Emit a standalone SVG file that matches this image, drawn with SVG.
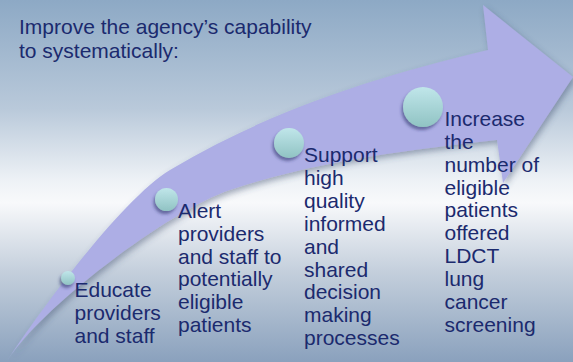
<svg xmlns="http://www.w3.org/2000/svg" width="573" height="362" viewBox="0 0 573 362">
  <defs>
    <linearGradient id="bg" x1="0" y1="0" x2="0" y2="1">
      <stop offset="0" stop-color="#8da9c5"/>
      <stop offset="0.3" stop-color="#b9c9da"/>
      <stop offset="0.5" stop-color="#eef2f6"/>
      <stop offset="0.56" stop-color="#f8f9fb"/>
      <stop offset="0.75" stop-color="#c4cfdc"/>
      <stop offset="1" stop-color="#8aa1bd"/>
    </linearGradient>
    <linearGradient id="bead" x1="0" y1="0" x2="0" y2="1">
      <stop offset="0" stop-color="#c0e6ea"/>
      <stop offset="1" stop-color="#90c3c3"/>
    </linearGradient>
    <filter id="arrowShadow" x="-10%" y="-10%" width="130%" height="130%">
      <feDropShadow dx="2" dy="3" stdDeviation="3" flood-color="#3a4a6a" flood-opacity="0.45"/>
    </filter>
    <filter id="beadShadow" x="-50%" y="-50%" width="200%" height="200%">
      <feDropShadow dx="-1.5" dy="3" stdDeviation="1.8" flood-color="#2c2f66" flood-opacity="0.55"/>
    </filter>
  </defs>
  <style>
    .lbl { font-family: "Liberation Sans", Arial, sans-serif; font-size: 21px; fill: #1b2a6e; }
    .bead { fill: url(#bead); filter: url(#beadShadow); }
  </style>

  <!-- backdrop -->
  <rect width="573" height="362" fill="url(#bg)"/>

  <!-- heading -->
  <g id="heading">
    <text class="lbl" x="19" y="34">Improve the agency’s capability</text>
    <text class="lbl" x="19" y="58">to systematically:</text>
  </g>

  <!-- rising arrow -->
  <g id="connectors">
    <path id="arrow" fill="#adaee5" filter="url(#arrowShadow)"
      d="M7 361 C47 300 125 197 170 170 C270 110 378 76 488 50 L483 5 L573 77 L503 183 L497 140 C410 150 320 160 230 190 C170 210 42 306 7 361 Z"/>
  </g>

  <!-- steps -->
  <g id="step1">
    <circle class="bead" cx="68" cy="278" r="7"/>
    <text class="lbl">
      <tspan x="74.5" y="297">Educate</tspan>
      <tspan x="74.5" y="319.8">providers</tspan>
      <tspan x="74.5" y="342.6">and staff</tspan>
    </text>
  </g>

  <g id="step2">
    <circle class="bead" cx="166.5" cy="199.5" r="11.5"/>
    <text class="lbl">
      <tspan x="178" y="218">Alert</tspan>
      <tspan x="178" y="240.8">providers</tspan>
      <tspan x="178" y="263.6">and staff to</tspan>
      <tspan x="178" y="286.4">potentially</tspan>
      <tspan x="178" y="309.2">eligible</tspan>
      <tspan x="178" y="332">patients</tspan>
    </text>
  </g>

  <g id="step3">
    <circle class="bead" cx="289" cy="143" r="15"/>
    <text class="lbl">
      <tspan x="304" y="162">Support</tspan>
      <tspan x="304" y="184.9">high</tspan>
      <tspan x="304" y="207.8">quality</tspan>
      <tspan x="304" y="230.7">informed</tspan>
      <tspan x="304" y="253.6">and</tspan>
      <tspan x="304" y="276.5">shared</tspan>
      <tspan x="304" y="299.4">decision</tspan>
      <tspan x="304" y="322.3">making</tspan>
      <tspan x="304" y="345.2">processes</tspan>
    </text>
  </g>

  <g id="step4">
    <circle class="bead" cx="423" cy="107" r="20"/>
    <text class="lbl">
      <tspan x="444.5" y="126">Increase</tspan>
      <tspan x="444.5" y="148.9">the</tspan>
      <tspan x="444.5" y="171.7">number of</tspan>
      <tspan x="444.5" y="194.6">eligible</tspan>
      <tspan x="444.5" y="217.4">patients</tspan>
      <tspan x="444.5" y="240.3">offered</tspan>
      <tspan x="444.5" y="263.2">LDCT</tspan>
      <tspan x="444.5" y="286">lung</tspan>
      <tspan x="444.5" y="308.9">cancer</tspan>
      <tspan x="444.5" y="331.7">screening</tspan>
    </text>
  </g>
</svg>
